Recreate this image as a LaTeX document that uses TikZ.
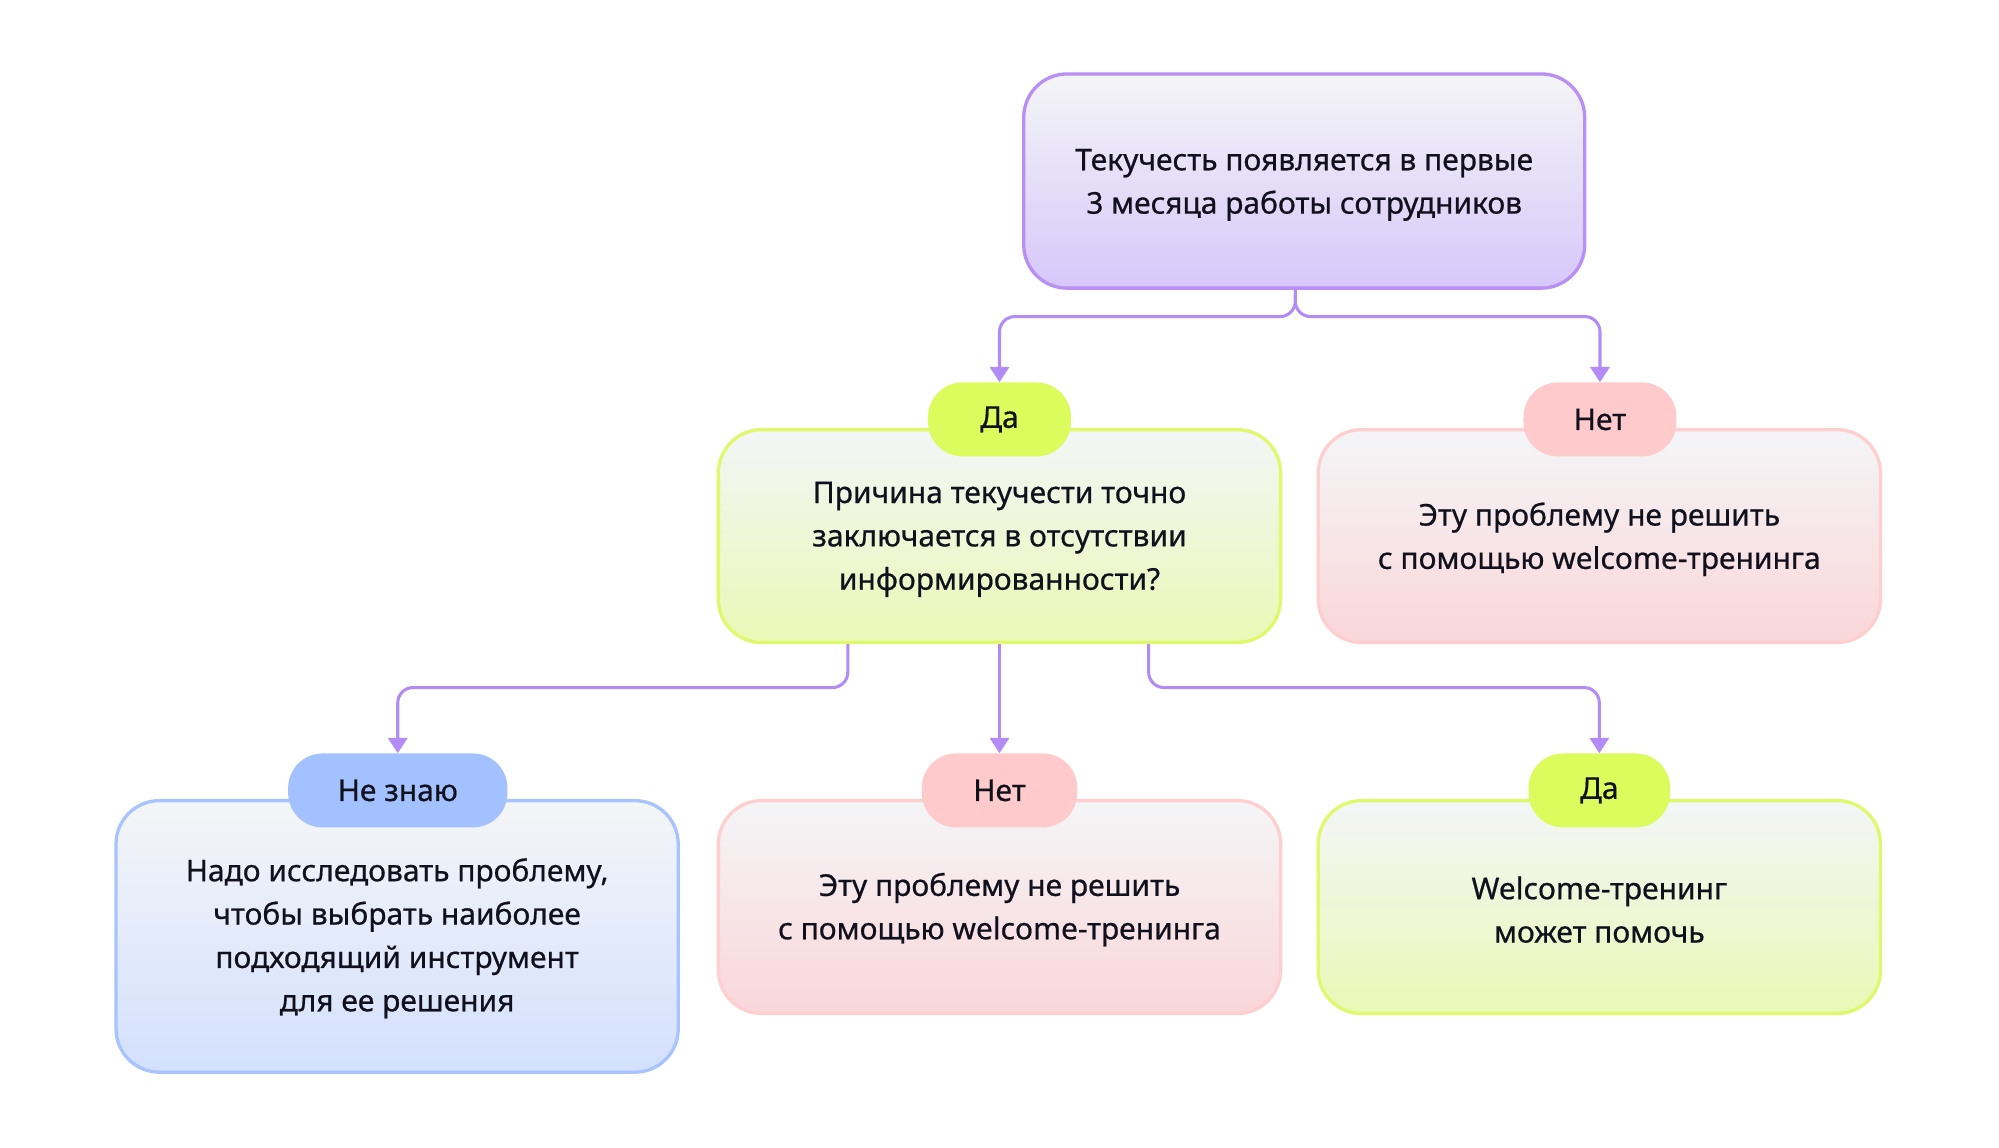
\documentclass[tikz,border=0pt]{standalone}
\usepackage{fontspec}
\setmainfont{Noto Sans}[FakeBold=0.6]
\usetikzlibrary{arrows.meta}

\definecolor{ink}{HTML}{11111D}
\definecolor{wire}{HTML}{B38BF7}
\definecolor{paper}{HTML}{F4F5F7}
\definecolor{violetline}{HTML}{B98EF5}
\definecolor{violetbot}{HTML}{D6C7F9}
\definecolor{limeline}{HTML}{DFF86C}
\definecolor{limebot}{HTML}{EAF8B6}
\definecolor{limepill}{HTML}{DBFC5C}
\definecolor{pinkline}{HTML}{FFCFD0}
\definecolor{pinkbot}{HTML}{FAD6D9}
\definecolor{pinkpill}{HTML}{FFCACB}
\definecolor{blueline}{HTML}{A8C4FF}
\definecolor{bluebot}{HTML}{D3E0FD}
\definecolor{bluepill}{HTML}{A3C0FF}

\tikzset{
  txt/.style={font=\fontsize{23.5}{34}\selectfont, text=ink, align=center, inner sep=0pt},
  card/.style={shape=rectangle, line width=2.6pt, rounded corners=34pt,
               inner sep=0pt, top color=paper, minimum width=441pt},
  vcard/.style={card, draw=violetline, bottom color=violetbot},
  lcard/.style={card, draw=limeline, bottom color=limebot},
  pcard/.style={card, draw=pinkline, bottom color=pinkbot},
  bcard/.style={card, draw=blueline, bottom color=bluebot},
  pill/.style={txt, shape=rectangle, rounded corners=27pt, minimum height=58pt},
  conn/.style={draw=wire, line width=2.4pt, rounded corners=12pt,
               -{Triangle[width=15pt,length=12pt]}},
}

\begin{document}
\begin{tikzpicture}[x=1pt, y=-1pt]
  \useasboundingbox[fill=white] (0,0) rectangle (1568,900);

  % root question
  \node[vcard, minimum width=440pt, minimum height=168pt] (top) at (1023,142) {};
  \node[txt] (topText) at ([yshift=-3pt]top.center)
    {Текучесть появляется в первые\\3 месяца работы сотрудников};

  % second level
  \node[lcard, minimum height=167pt] (q) at (784,420.5) {};
  \node[txt] (qText) at ([yshift=-2.5pt]q.center)
    {Причина текучести точно\\заключается в отсутствии\\информированности?};
  \node[pill, fill=limepill, minimum width=112pt] (pyesA) at (784,329) {Да};

  \node[pcard, minimum height=167pt] (rno) at (1254.5,420.5) {};
  \node[txt] (rnoText) at ([yshift=-2.5pt]rno.center)
    {Эту проблему не решить\\с помощью welcome-тренинга};
  \node[pill, fill=pinkpill, minimum width=120pt] (pnoA) at (1255,329) {Нет};

  % third level
  \node[bcard, minimum height=213pt] (dk) at (311.5,734.5) {};
  \node[txt] (dkText) at ([yshift=-1.5pt]dk.center)
    {Надо исследовать проблему,\\чтобы выбрать наиболее\\подходящий инструмент\\для ее решения};
  \node[pill, fill=bluepill, minimum width=172pt] (pdk) at (312,620) {Не знаю};

  \node[pcard, minimum height=167pt] (bno) at (784,711.5) {};
  \node[txt] (bnoText) at ([yshift=-2pt]bno.center)
    {Эту проблему не решить\\с помощью welcome-тренинга};
  \node[pill, fill=pinkpill, minimum width=122pt] (pnoB) at (784,620) {Нет};

  \node[lcard, minimum height=167pt] (byes) at (1254.5,711.5) {};
  \node[txt] (byesText) at ([yshift=-2pt]byes.center)
    {Welcome-тренинг\\может помочь};
  \node[pill, fill=limepill, minimum width=111pt] (pyesB) at (1254.5,620) {Да};

  % connectors from the root
  \draw[conn] ([xshift=-7pt]top.south) -- ++(0,21) -| (pyesA.north);
  \draw[conn] ([xshift=-7pt]top.south) -- ++(0,21) -| (pnoA.north);

  % connectors from the question
  \draw[conn] ([xshift=-119pt]q.south) -- ++(0,34) -| (pdk.north);
  \draw[conn] (q.south) -- (pnoB.north);
  \draw[conn] ([xshift=117pt]q.south) -- ++(0,34) -| (pyesB.north);
\end{tikzpicture}
\end{document}
